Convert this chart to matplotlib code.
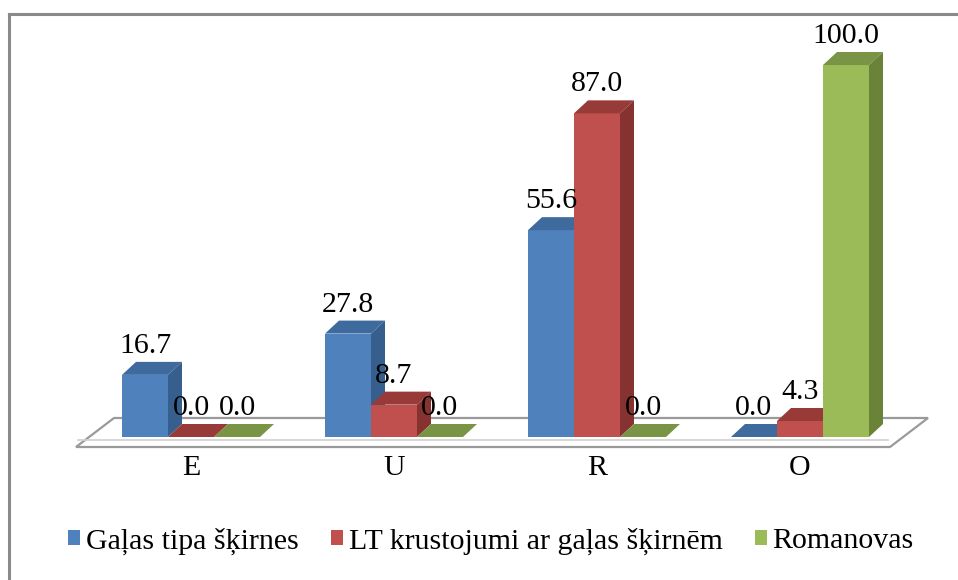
"""3D-style grouped bar chart (Excel look) for breed shares by category."""

import matplotlib.pyplot as plt
from matplotlib.patches import Polygon, Rectangle
from matplotlib.lines import Line2D

categories = ["E", "U", "R", "O"]
series_names = [
    "Gaļas tipa šķirnes",
    "LT krustojumi ar gaļas šķirnēm",
    "Romanovas",
]
gala_tipa = [16.7, 27.8, 55.6, 0.0]
lt_krustojumi = [0.0, 8.7, 87.0, 4.3]
romanovas = [0.0, 0.0, 0.0, 100.0]

# front / top / side shades per series
FACE_COLORS = [
    ("#4F81BD", "#3E6A9E", "#375F8D"),
    ("#C0504D", "#983A38", "#853230"),
    ("#9BBB59", "#7A9446", "#6A8339"),
]

W, H, DPI = 958, 580, 100
PX_X = 203.0      # pixels per category step
PX_Y = 3.72       # pixels per value unit
X0, Y0 = 191.0, 437.0   # pixel position of first group centre / baseline
BAR_W = 46 / PX_X
DX = 14 / PX_X    # depth offset of the bar tops, data units
DY = 13 / PX_Y

fig = plt.figure(figsize=(W / DPI, H / DPI), dpi=DPI)
ax = fig.add_axes([0, 0, 1, 1])
ax.set_xlim(-X0 / PX_X, (W - X0) / PX_X)
ax.set_ylim(-(H - Y0) / PX_Y, Y0 / PX_Y)
ax.axis("off")

serif = "Liberation Serif"
fs = 21.5

# floor slab
fl_front, fl_back = -10 / PX_Y, 19 / PX_Y
fx0, fx1 = (76 - X0) / PX_X, (890 - X0) / PX_X
bx0, bx1 = (114 - X0) / PX_X, (928 - X0) / PX_X
ax.add_patch(Polygon([(fx0, fl_front), (fx1, fl_front), (bx1, fl_back), (bx0, fl_back)],
                     closed=True, facecolor="white", edgecolor="#9a9a9a", lw=1.6, zorder=1))
ax.plot([fx0 + 0.01, fx1 - 0.01], [-3 / PX_Y] * 2, color="#d0d0d0", lw=1.2, zorder=1)

z = 2
all_series = [gala_tipa, lt_krustojumi, romanovas]
for i, cat in enumerate(categories):
    for j, vals in enumerate(all_series):
        v = vals[i]
        cx = i + (j - 1) * BAR_W
        left, right = cx - BAR_W / 2, cx + BAR_W / 2
        front, top, side = FACE_COLORS[j]
        ax.bar(cx, v, width=BAR_W, color=front, zorder=z, linewidth=0)
        ax.add_patch(Polygon([(left, v), (right, v), (right + DX, v + DY), (left + DX, v + DY)],
                             closed=True, facecolor=top, edgecolor="none", zorder=z + 0.1))
        if v > 0:
            ax.add_patch(Polygon([(right, 0), (right + DX, DY), (right + DX, v + DY), (right, v)],
                                 closed=True, facecolor=side, edgecolor="none", zorder=z + 0.1))
        ax.text(cx, v + 29 / PX_Y, f"{v:.1f}", ha="center", va="center",
                family=serif, fontsize=fs, zorder=50)
        z += 1
    ax.text(i, -31 / PX_Y, cat, ha="center", va="center", family=serif, fontsize=fs)

# legend
handles = [Rectangle((0, 0), 1, 1, facecolor=c[0], edgecolor="none") for c in FACE_COLORS]
fig.legend(handles, series_names, loc="center", bbox_to_anchor=(491 / W, (H - 541) / H),
           ncol=3, frameon=False, prop={"family": serif, "size": fs},
           handlelength=0.4, handleheight=0.4, handletextpad=0.2, columnspacing=1.07)

# chart border (top and left visible)
fig.add_artist(Line2D([9 / W, 9 / W], [0, 1 - 14 / H], transform=fig.transFigure,
                      color="#8a8a8a", lw=2.2))
fig.add_artist(Line2D([9 / W, 1], [1 - 14 / H, 1 - 14 / H], transform=fig.transFigure,
                      color="#8a8a8a", lw=2.2))

fig.savefig("out.png", dpi=DPI)
